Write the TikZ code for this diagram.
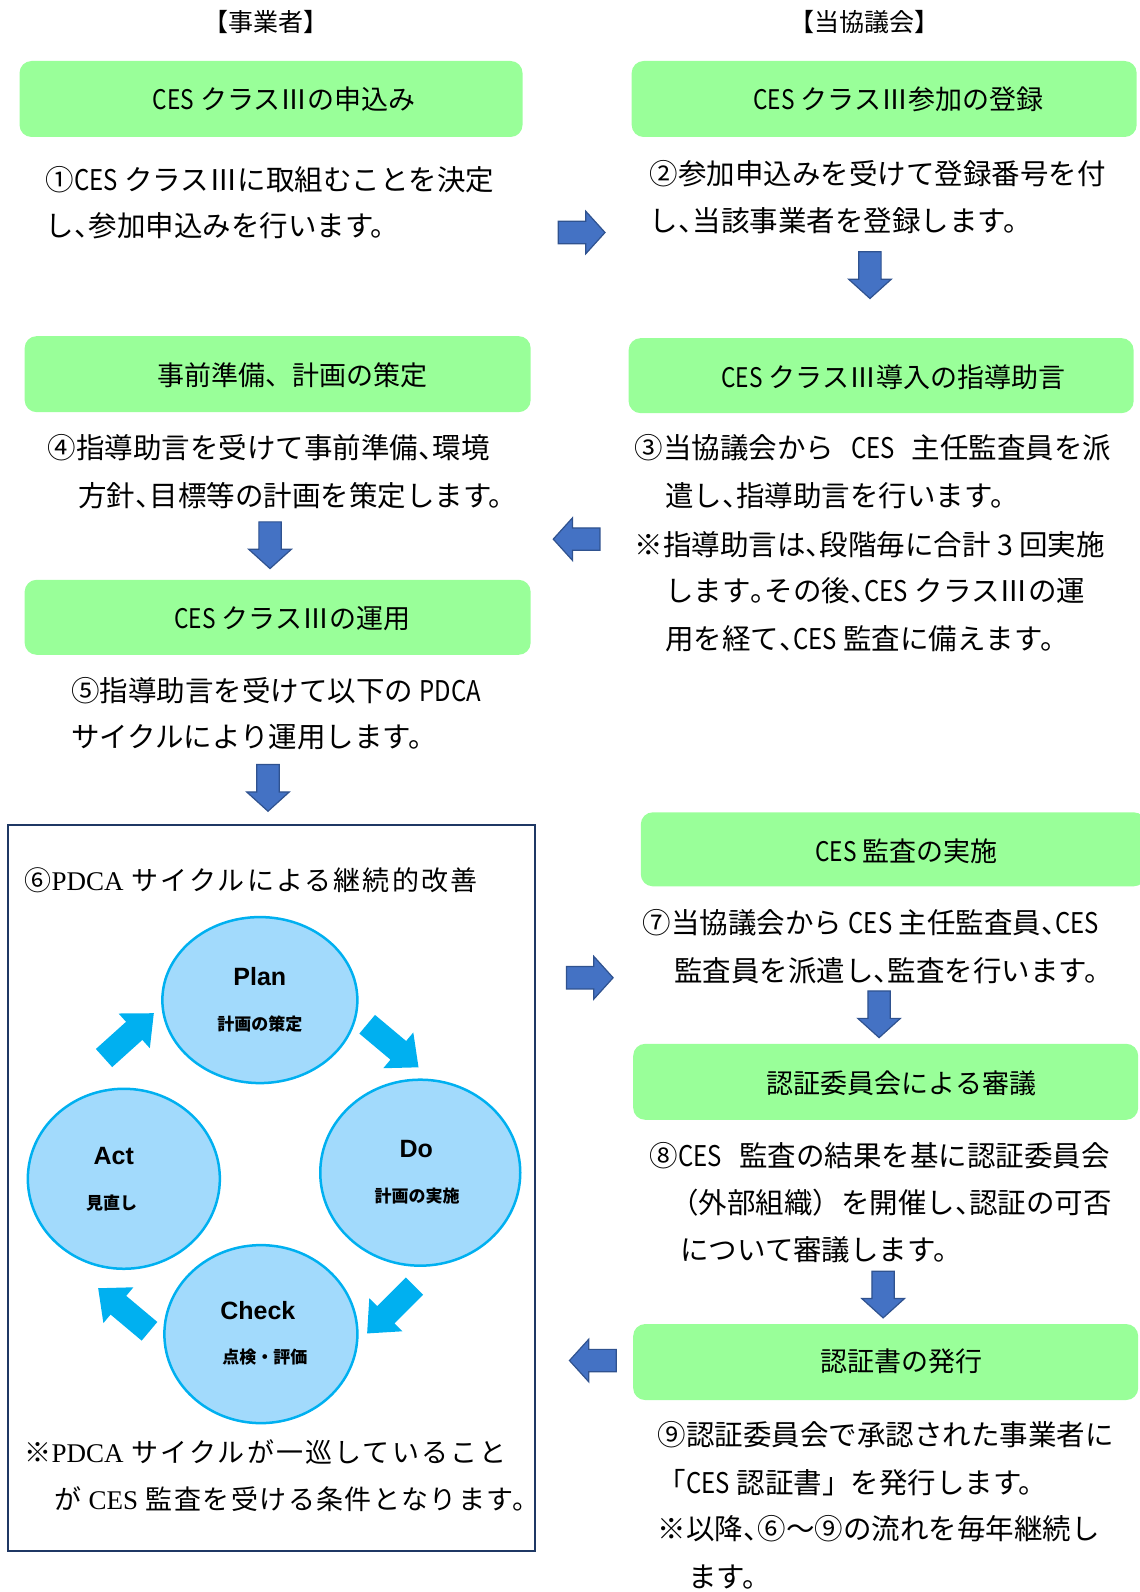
\documentclass[tikz,border=0pt]{standalone}
\usepackage{fontspec}
\setmainfont{Noto Sans CJK JP}
\newfontfamily\lsans{Liberation Sans}
\newfontfamily\lserif{Liberation Serif}
\newfontfamily\nar[FakeStretch=0.84]{Noto Sans CJK JP}
\newfontfamily\spc[LetterSpace=8]{Noto Sans CJK JP}
\newfontfamily\spcb[LetterSpace=5.5]{Noto Sans CJK JP}
\newcommand\jcomma{\makebox[0.5em][l]{、}}
\newcommand\jperiod{\makebox[0.5em][l]{。}}
\newcommand\ces{{\nar CES}}
\usetikzlibrary{shapes.geometric}
\definecolor{gfill}{RGB}{153,255,153}
\definecolor{bfill}{RGB}{68,114,196}
\definecolor{bedge}{RGB}{47,82,143}
\definecolor{cyanar}{RGB}{0,176,240}
\definecolor{cfill}{RGB}{162,218,252}
\definecolor{frame}{RGB}{31,56,100}
\begin{document}
\begin{tikzpicture}[x=1.0151pt,y=-1.0153pt,
  gbox/.style={draw=none, fill=gfill, rounded corners=12pt, inner sep=0pt},
  ttl/.style={inner sep=0pt, font=\fontsize{27}{32}\selectfont},
  hdr/.style={inner sep=0pt, font=\fontsize{25}{30}\selectfont},
  ln/.style={anchor=west, inner sep=0pt, font=\fontsize{28.5}{34}\selectfont},
  sln/.style={anchor=west, inner sep=0pt, font=\spc\fontsize{27}{32}\selectfont},
  slnb/.style={anchor=west, inner sep=0pt, font=\spcb\fontsize{27}{32}\selectfont},
  cyc/.style={ellipse, draw=cyanar, line width=2.5pt, fill=cfill, inner sep=0pt},
  big/.style={inner sep=0pt, font=\lsans\bfseries\fontsize{25}{30}\selectfont},
  small/.style={inner sep=0pt, font=\bfseries\fontsize{17}{20}\selectfont},
  barrow/.pic={\filldraw[fill=bfill, draw=bedge, line width=1.2pt]
     (-23,-11) -- (4,-11) -- (4,-21) -- (23,0) -- (4,21) -- (4,11) -- (-23,11) -- cycle;},
  carrow/.pic={\fill[cyanar]
     (-33,-12) -- (7,-12) -- (7,-23) -- (33,0) -- (7,23) -- (7,12) -- (-33,12) -- cycle;}
]
\useasboundingbox (0,0) rectangle (1123,1568);

% headers
\node[hdr] (h1) at (262,22) {【事業者】};
\node[hdr] (h2) at (852,22) {【当協議会】};

% green boxes
\node[gbox, minimum width=503pt, minimum height=76pt] (b1) at (267,97.5) {};
\node[ttl] (b1t) at (280,98) {\ces{} クラスⅢの申込み};
\node[gbox, minimum width=505pt, minimum height=76pt] (b2) at (871,97.5) {};
\node[ttl] (b2t) at (885,98) {\ces{} クラスⅢ参加の登録};
\node[gbox, minimum width=506pt, minimum height=76pt] (b3) at (273.5,368.5) {};
\node[ttl] (b3t) at (288,370) {事前準備、計画の策定};
\node[gbox, minimum width=505pt, minimum height=75pt] (b4) at (868,370) {};
\node[ttl] (b4t) at (880,372) {\ces{} クラスⅢ導入の指導助言};
\node[gbox, minimum width=506pt, minimum height=75pt] (b5) at (273.5,608) {};
\node[ttl] (b5t) at (288,609) {\ces{} クラスⅢの運用};
\node[gbox, minimum width=505pt, minimum height=74pt] (b6) at (880,836.5) {};
\node[ttl] (b6t) at (893,838) {\ces{} 監査の実施};
\node[gbox, minimum width=505pt, minimum height=76pt] (b7) at (872.5,1065.5) {};
\node[ttl] (b7t) at (888,1067) {認証委員会による審議};
\node[gbox, minimum width=505pt, minimum height=76pt] (b8) at (872.5,1341.5) {};
\node[ttl] (b8t) at (888,1341) {認証書の発行};

% body texts
\node[ln] (t1a) at (45,177) {①\ces{} クラスⅢに取組むことを決定};
\node[ln] (t1b) at (45,222) {し\jcomma 参加申込みを行います。};
\node[ln] (t2a) at (640,171) {②参加申込みを受けて登録番号を付};
\node[ln] (t2b) at (640,217) {し\jcomma 当該事業者を登録します。};
\node[ln] (t4a) at (47,441) {④指導助言を受けて事前準備\jcomma 環境};
\node[ln] (t4b) at (77,488) {方針\jcomma 目標等の計画を策定します。};
\node[ln] (t3a) at (625,441) {③当協議会から\hspace{0.6em}\ces\hspace{0.6em}主任監査員を派};
\node[ln] (t3b) at (655,488) {遣し\jcomma 指導助言を行います。};
\node[ln] (t3c) at (625,536) {※指導助言は\jcomma 段階毎に合計 3 回実施};
\node[ln] (t3d) at (655,582) {します\jperiod その後\jcomma \ces{} クラスⅢの運};
\node[ln] (t3e) at (655,629) {用を経て\jcomma \ces{} 監査に備えます。};
\node[ln] (t5a) at (70,680) {⑤指導助言を受けて以下の {\nar PDCA}};
\node[ln] (t5b) at (70,726) {サイクルにより運用します。};
\node[ln] (t7a) at (633,909) {⑦当協議会から \ces{} 主任監査員\jcomma \ces};
\node[ln] (t7b) at (664,956) {監査員を派遣し\jcomma 監査を行います。};
\node[ln] (t8a) at (640,1138) {⑧\ces\hspace{0.6em}監査の結果を基に認証委員会};
\node[ln] (t8b) at (660,1185) {（外部組織）を開催し\jcomma 認証の可否};
\node[ln] (t8c) at (670,1231) {について審議します。};
\node[ln] (t9a) at (648,1413) {⑨認証委員会で承認された事業者に};
\node[ln] (t9b) at (648,1460) {「\ces{} 認証書」を発行します。};
\node[ln] (t9c) at (648,1506) {※以降\jcomma ⑥～⑨の流れを毎年継続し};
\node[ln] (t9d) at (678,1553) {ます。};

% blue block arrows
\pic at (573,229) {barrow};
\pic[rotate=-90] at (857,271) {barrow};
\pic[rotate=180] at (568,531) {barrow};
\pic[rotate=-90] at (266,537) {barrow};
\pic[rotate=-90] at (264,776) {barrow};
\pic at (581,963) {barrow};
\pic[rotate=-90] at (866,999) {barrow};
\pic[rotate=-90] at (870,1275) {barrow};
\pic[rotate=180] at (584,1340) {barrow};

% PDCA frame
\node[draw=frame, line width=1.5pt, minimum width=527pt, minimum height=726pt, inner sep=0pt] (frm) at (267.5,1170) {};
\node[sln] (p0) at (24,867) {⑥{\lserif PDCA} サイクルによる継続的改善};
\node[sln] (p1) at (24,1430) {※{\lserif PDCA} サイクルが一巡していること};
\node[slnb] (p2) at (53,1477) {が {\lserif CES} 監査を受ける条件となります。};

% cycle
\node[cyc, minimum width=195pt, minimum height=166pt] (plan) at (256,985) {};
\node[cyc, minimum width=200pt, minimum height=186pt] (do) at (414,1155) {};
\node[cyc, minimum width=192pt, minimum height=180pt] (act) at (122,1161) {};
\node[cyc, minimum width=193pt, minimum height=178pt] (check) at (257,1314) {};
\node[big] (planl) at (256,962) {Plan};
\node[small] (plans) at (256,1009) {計画の策定};
\node[big] (dol) at (410,1132) {Do};
\node[small] (dos) at (411,1178) {計画の実施};
\node[big] (actl) at (112,1139) {Act};
\node[small] (acts) at (110,1185) {見直し};
\node[big] (checkl) at (254,1291) {Check};
\node[small] (checks) at (261,1337) {点検・評価};

\pic[rotate=42] at (127,1020) {carrow};
\pic[rotate=-40] at (387,1030) {carrow};
\pic[rotate=-135] at (385,1290) {carrow};
\pic[rotate=140] at (122,1290) {carrow};
\end{tikzpicture}
\end{document}
